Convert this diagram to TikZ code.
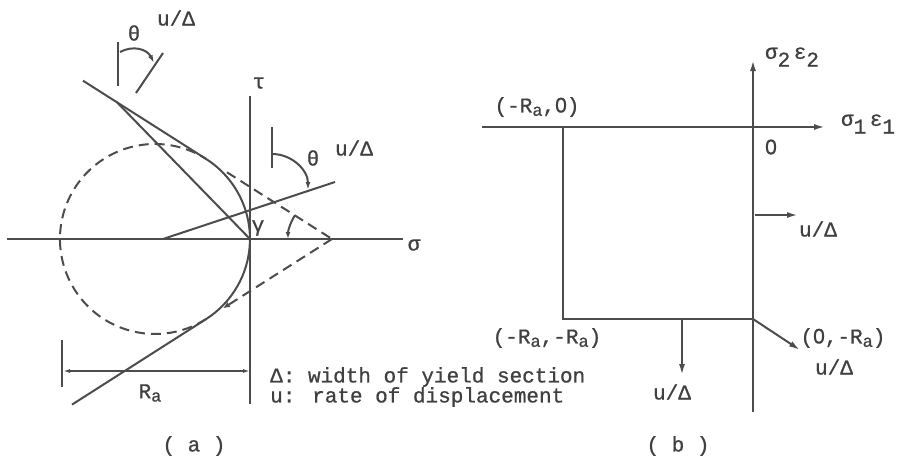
\documentclass[tikz,border=0pt]{standalone}
\usepackage{fontspec}
\setmainfont[FakeBold=0.8]{Liberation Mono}
\newfontfamily\zfont[FakeBold=0.8]{Liberation Sans}
\usetikzlibrary{arrows.meta}
\tikzset{
 ln/.style={line width=2pt, draw=black!70},
 dsh/.style={ln, dash pattern=on 10pt off 6pt},
 arr/.style={ln, -{Latex[length=11pt,width=6pt]}},
 sarr/.style={ln, -{Latex[length=8pt,width=5pt]}},
 lbl/.style={font=\fontsize{21}{23}\selectfont, text=black!75, inner sep=0pt},
}
\newcommand{\Rsb}{R\raisebox{-0.3ex}{\fontsize{17}{17}\selectfont a}}
\newcommand{\lowd}[1]{\raisebox{-0.7ex}{#1}}
\newcommand{\zr}{{\zfont 0}}
\begin{document}
\begin{tikzpicture}[x=1pt,y=-1pt]
\useasboundingbox (0,0) rectangle (897,463);
% ---------- panel (a) ----------
\coordinate (O) at (250,239);
\coordinate (A) at (332,239);
\coordinate (Tu) at (206,158.9);
\coordinate (Tl) at (206,319.1);
\coordinate (Lu) at (83,80.7);
\coordinate (Ll) at (72,404.6);
\coordinate (P) at (117,102.3);
\coordinate (Du) at (227,172.3);
\coordinate (Dl) at (223,308.3);
\coordinate (sl) at (7,239);
\coordinate (sr) at (403,239);
\coordinate (tt) at (250,96);
\coordinate (tb) at (250,404);
% axes
\draw[ln] (sl) -- (sr);
\draw[ln] (tt) -- (tb);
% dashed circle part
\draw[dsh] (Tl) arc[start angle=57.5, end angle=302.5, radius=95];
% envelope
\draw[ln] (Lu) -- (Tu) arc[start angle=-57.5, end angle=57.5, radius=95] -- (Ll);
% dashed tangent continuations
\draw[dsh] (Du) -- (A);
\draw[dsh, -{Latex[length=7pt,width=6pt]}] (A) -- (Dl);
% line to origin
\draw[ln] (P) -- (O);
% direction line
\coordinate (Ds) at (163,239);
\coordinate (De) at (335,182);
\draw[ln] (Ds) -- (De);
% right theta marker
\coordinate (rt1) at (272,127);
\coordinate (rt2) at (272,168);
\draw[ln] (rt1) -- (rt2);
\coordinate (ra) at (272,154);
\draw[sarr] (ra) arc[start angle=-90, end angle=0, radius=36];
% left theta marker
\coordinate (lt1) at (118,42);
\coordinate (lt2) at (118,86);
\draw[ln] (lt1) -- (lt2);
\coordinate (ls1) at (163,53);
\coordinate (ls2) at (136,93);
\draw[ln] (ls1) -- (ls2);
\coordinate (la1) at (120,52);
\coordinate (la2) at (154,63);
\draw[sarr] (la1) .. controls (133,45) and (147,49) .. (la2);
% gamma arc
\coordinate (ga) at (288,239);
\draw[ln, {Latex[length=7pt,width=5pt]}-] (ga) arc[start angle=180, end angle=212.5, radius=44];
% Ra dimension
\coordinate (rk1) at (62,340);
\coordinate (rk2) at (62,387);
\draw[ln] (rk1) -- (rk2);
\coordinate (rd1) at (63,371);
\coordinate (rd2) at (250,371);
\draw[ln, {Latex[length=7pt,width=4pt]}-{Latex[length=7pt,width=4pt]}] (rd1) -- (rd2);
% labels (a)
\node[lbl] (th1) at (134,33) {θ};
\node[lbl] (ud1) at (176,18) {u/Δ};
\node[lbl] (tau) at (259,83) {τ};
\node[lbl] (th2) at (313,158) {θ};
\node[lbl] (ud2) at (354,148) {u/Δ};
\node[lbl] (gam) at (258,228) {γ};
\node[lbl] (sig) at (414,245) {σ};
\node[lbl] (Ra) at (150,393) {\Rsb};
\node[lbl, anchor=west] (leg1) at (270,377) {Δ: width of yield section};
\node[lbl, anchor=west] (leg2) at (270,397) {u: rate of displacement};
\node[lbl] (capa) at (194,446) {( a )};
% ---------- panel (b) ----------
\coordinate (y0) at (753,412);
\coordinate (y1) at (753,60);
\coordinate (x0) at (482,127);
\coordinate (x1) at (825,127);
\draw[arr] (y0) -- (y1);
\draw[arr] (x0) -- (x1);
\coordinate (r1) at (563,127);
\coordinate (r2) at (563,319);
\coordinate (r3) at (753,319);
\draw[ln] (r1) -- (r2) -- (r3);
\coordinate (a1s) at (755,215);
\coordinate (a1e) at (798,215);
\draw[arr] (a1s) -- (a1e);
\coordinate (a2s) at (682,319);
\coordinate (a2e) at (682,375);
\draw[arr] (a2s) -- (a2e);
\coordinate (a3e) at (800,350);
\draw[arr] (r3) -- (a3e);
% labels (b)
\node[lbl] (s2e2) at (792,57) {σ\lowd{2}\,ε\lowd{2}};
\node[lbl] (s1e1) at (868,124) {σ\lowd{1}\,ε\lowd{1}};
\node[lbl] (zero) at (771,147) {\zr};
\node[lbl] (pRa0) at (537,107) {(-\Rsb,\zr)};
\node[lbl] (pRaRa) at (547,338) {(-\Rsb,-\Rsb)};
\node[lbl] (p0Ra) at (843,338) {(\zr,-\Rsb)};
\node[lbl] (ub1) at (818,229) {u/Δ};
\node[lbl] (ub2) at (672,392) {u/Δ};
\node[lbl] (ub3) at (834,367) {u/Δ};
\node[lbl] (capb) at (678,446) {( b )};
\end{tikzpicture}
\end{document}
